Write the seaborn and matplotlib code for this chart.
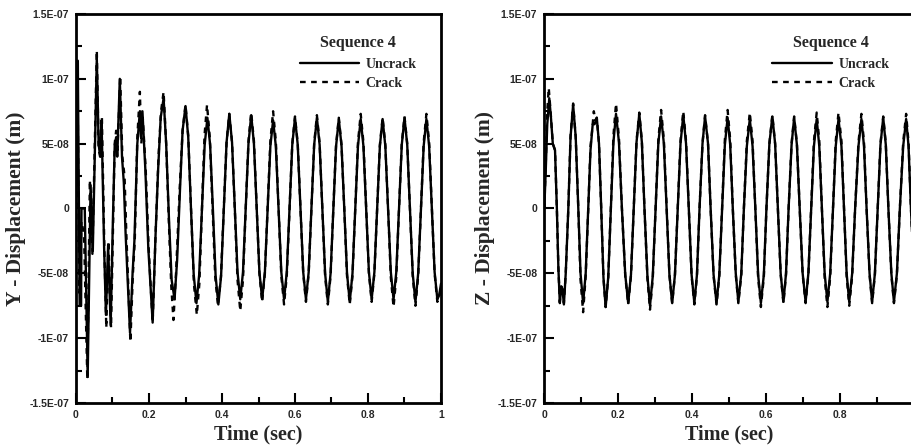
import matplotlib
matplotlib.use("Agg")
import matplotlib.pyplot as plt
from matplotlib.ticker import FixedLocator, FixedFormatter, MultipleLocator
from matplotlib.lines import Line2D
import seaborn as sns
import pandas as pd

# ---------------- data (displacement in units of 1e-8 m) ----------------
y_uncrack = [
    (0.000, 0.0), (0.005, 11.4), (0.010, -7.5), (0.014, -7.5), (0.015, 0.0), (0.024, 0.0),
    (0.032, -13.0), (0.040, 1.8), (0.046, -3.3), (0.057, 11.6), (0.062, 5.0), (0.066, 4.0),
    (0.070, 6.8), (0.077, -3.0), (0.082, -8.2), (0.088, -2.8), (0.095, -9.0), (0.101, -1.0),
    (0.106, 4.8), (0.110, 5.5), (0.113, 4.0), (0.120, 10.0), (0.126, 4.0), (0.131, 2.0),
    (0.136, -2.0), (0.148, -9.6), (0.155, -5.0), (0.160, -2.5), (0.168, 5.0), (0.175, 7.5),
    (0.178, 5.5), (0.182, 7.5), (0.190, 3.0), (0.198, -3.0), (0.210, -8.8), (0.218, -2.0),
    (0.225, 3.0), (0.232, 7.0), (0.240, 8.5), (0.247, 5.0), (0.255, -1.0), (0.262, -5.5),
    (0.270, -7.0), (0.277, -4.0), (0.285, 1.5), (0.292, 6.0), (0.300, 7.9),
    (0.3075, 5.5), (0.315, 0.0), (0.3225, -5.1), (0.330, -7.3),
    (0.3375, -5.1), (0.345, 0.0), (0.3525, 4.9), (0.360, 7.0),
    (0.3675, 4.9), (0.375, 0.0), (0.3825, -5.2), (0.390, -7.4),
    (0.3975, -5.2), (0.405, 0.0), (0.4125, 5.1), (0.420, 7.3),
    (0.4275, 5.1), (0.435, 0.0), (0.4425, -4.9), (0.450, -7.0),
    (0.4575, -4.9), (0.465, 0.0), (0.4725, 5.0), (0.480, 7.2),
    (0.4875, 5.0), (0.495, 0.0), (0.5025, -4.9), (0.510, -7.0),
    (0.5175, -4.9), (0.525, 0.0), (0.5325, 4.8), (0.540, 6.8),
    (0.5475, 4.8), (0.555, 0.0), (0.5625, -4.9), (0.570, -7.0),
    (0.5775, -4.9), (0.585, 0.0), (0.5925, 4.9), (0.600, 7.0),
    (0.6075, 4.9), (0.615, 0.0), (0.6225, -4.9), (0.630, -7.0),
    (0.6375, -4.9), (0.645, 0.0), (0.6525, 4.9), (0.660, 7.0),
    (0.6675, 4.9), (0.675, 0.0), (0.6825, -5.0), (0.690, -7.2),
    (0.6975, -5.0), (0.705, 0.0), (0.7125, 4.8), (0.720, 6.9),
    (0.7275, 4.8), (0.735, 0.0), (0.7425, -5.0), (0.750, -7.2),
    (0.7575, -5.0), (0.765, 0.0), (0.7725, 4.8), (0.780, 6.9),
    (0.7875, 4.8), (0.795, 0.0), (0.8025, -4.9), (0.810, -7.0),
    (0.8175, -4.9), (0.825, 0.0), (0.8325, 4.8), (0.840, 6.9),
    (0.8475, 4.8), (0.855, 0.0), (0.8625, -4.9), (0.870, -7.0),
    (0.8775, -4.9), (0.885, 0.0), (0.8925, 4.9), (0.900, 7.0),
    (0.9075, 4.9), (0.915, 0.0), (0.9225, -5.0), (0.930, -7.2),
    (0.9375, -5.0), (0.945, 0.0), (0.9525, 4.8), (0.960, 6.9),
    (0.9675, 4.8), (0.975, 0.0), (0.9825, -4.9), (0.990, -7.0),
    (0.995, -6.7), (1.000, -5.8),
]

y_crack = [
    (0.000, 0.0), (0.004, 10.5), (0.009, -6.5), (0.015, -1.0), (0.022, -2.0), (0.031, -13.2),
    (0.038, 2.2), (0.045, -3.5), (0.057, 12.2), (0.062, 4.5), (0.067, 4.0), (0.071, 7.0),
    (0.078, -3.5), (0.083, -9.2), (0.089, -2.5), (0.096, -9.2), (0.102, -0.5), (0.106, 5.0),
    (0.110, 6.0), (0.114, 4.5), (0.121, 10.2), (0.127, 4.0), (0.133, 2.5), (0.138, -2.0),
    (0.149, -10.3), (0.156, -5.0), (0.161, -2.5), (0.168, 5.5), (0.175, 9.0), (0.179, 5.0),
    (0.183, 7.0), (0.191, 3.0), (0.199, -3.0), (0.210, -8.8), (0.218, -2.0), (0.226, 4.0),
    (0.233, 7.5), (0.240, 9.0), (0.247, 5.0), (0.255, -1.5), (0.261, -6.0), (0.267, -8.6),
    (0.274, -5.0), (0.284, 1.5), (0.292, 6.0), (0.300, 8.0),
    (0.3075, 5.6), (0.315, 0.0), (0.323, -5.8), (0.331, -8.2),
    (0.338, -5.8), (0.345, 0.0), (0.352, 5.6), (0.359, 8.0),
    (0.3665, 5.5), (0.374, 0.0), (0.3815, -5.3), (0.389, -7.5),
    (0.397, -5.3), (0.405, 0.0), (0.4125, 5.1), (0.420, 7.3),
    (0.4275, 5.1), (0.435, 0.0), (0.4425, -5.5), (0.450, -7.9),
    (0.4575, -5.5), (0.465, 0.0), (0.4725, 5.2), (0.480, 7.4),
    (0.4875, 5.2), (0.495, 0.0), (0.5025, -5.0), (0.510, -7.2),
    (0.5175, -5.0), (0.525, 0.0), (0.5325, 5.2), (0.540, 7.5),
    (0.5475, 5.2), (0.555, 0.0), (0.5625, -5.2), (0.570, -7.4),
    (0.5775, -5.2), (0.585, 0.0), (0.5925, 5.0), (0.600, 7.1),
    (0.6075, 5.0), (0.615, 0.0), (0.6225, -5.0), (0.630, -7.2),
    (0.6375, -5.0), (0.645, 0.0), (0.6525, 5.0), (0.660, 7.2),
    (0.6675, 5.0), (0.675, 0.0), (0.6825, -5.2), (0.690, -7.4),
    (0.6975, -5.2), (0.705, 0.0), (0.7125, 4.9), (0.720, 7.0),
    (0.7275, 4.9), (0.735, 0.0), (0.7425, -5.2), (0.750, -7.4),
    (0.7575, -5.2), (0.765, 0.0), (0.7725, 5.1), (0.780, 7.3),
    (0.7875, 5.1), (0.795, 0.0), (0.8025, -5.0), (0.810, -7.2),
    (0.8175, -5.0), (0.825, 0.0), (0.8325, 4.9), (0.840, 7.0),
    (0.8475, 4.9), (0.855, 0.0), (0.8625, -5.3), (0.870, -7.6),
    (0.8775, -5.3), (0.885, 0.0), (0.8925, 5.0), (0.900, 7.1),
    (0.9075, 5.0), (0.915, 0.0), (0.9225, -5.2), (0.930, -7.5),
    (0.9375, -5.2), (0.945, 0.0), (0.9525, 5.1), (0.960, 7.3),
    (0.9675, 5.1), (0.975, 0.0), (0.9825, -5.0), (0.990, -7.2),
    (0.995, -6.9), (1.000, -6.0),
]

z_uncrack = [
    (0.000, 0.0), (0.004, 3.0), (0.008, 6.5), (0.0135, 8.5), (0.018, 7.0), (0.023, 5.0),
    (0.029, 4.5), (0.034, 0.0), (0.038, -4.5), (0.042, -7.3), (0.046, -6.0), (0.049, -6.2),
    (0.053, -7.4), (0.058, -5.0), (0.065, 0.0), (0.071, 5.5), (0.078, 8.0),
    (0.085, 5.5), (0.092, 0.0), (0.098, -5.0), (0.105, -7.3),
    (0.112, -5.0), (0.119, 0.0), (0.125, 4.5), (0.131, 6.5), (0.136, 6.5), (0.142, 7.0),
    (0.148, 5.0), (0.154, 0.0), (0.160, -5.3), (0.166, -7.6),
    (0.173, -5.3), (0.180, 0.0), (0.187, 5.1), (0.194, 7.3),
    (0.202, 5.1), (0.210, 0.0), (0.219, -5.1), (0.227, -7.3),
    (0.2345, -5.1), (0.242, 0.0), (0.2495, 5.1), (0.257, 7.3),
    (0.264, 5.1), (0.271, 0.0), (0.279, -5.2), (0.286, -7.5),
    (0.2935, -5.2), (0.301, 0.0), (0.3085, 5.0), (0.316, 7.1),
    (0.3235, 5.0), (0.331, 0.0), (0.3385, -5.1), (0.346, -7.3),
    (0.3535, -5.1), (0.361, 0.0), (0.3685, 5.0), (0.376, 7.2),
    (0.3835, 5.0), (0.391, 0.0), (0.3985, -5.1), (0.406, -7.3),
    (0.413, -5.1), (0.420, 0.0), (0.428, 5.0), (0.435, 7.1),
    (0.443, 5.0), (0.450, 0.0), (0.458, -5.1), (0.466, -7.3),
    (0.4735, -5.1), (0.481, 0.0), (0.4885, 4.9), (0.496, 7.0),
    (0.503, 4.9), (0.510, 0.0), (0.518, -5.0), (0.525, -7.2),
    (0.533, -5.0), (0.540, 0.0), (0.548, 4.8), (0.556, 6.9),
    (0.5635, 4.8), (0.571, 0.0), (0.5785, -5.1), (0.586, -7.3),
    (0.594, -5.1), (0.601, 0.0), (0.609, 5.0), (0.617, 7.1),
    (0.6245, 5.0), (0.632, 0.0), (0.6395, -5.0), (0.647, -7.2),
    (0.654, -5.0), (0.661, 0.0), (0.669, 4.9), (0.676, 7.0),
    (0.6835, 4.9), (0.691, 0.0), (0.699, -5.0), (0.707, -7.2),
    (0.7145, -5.0), (0.722, 0.0), (0.7295, 4.8), (0.737, 6.9),
    (0.744, 4.8), (0.751, 0.0), (0.7585, -5.0), (0.766, -7.2),
    (0.7735, -5.0), (0.781, 0.0), (0.7885, 4.8), (0.796, 6.9),
    (0.804, 4.8), (0.811, 0.0), (0.818, -5.0), (0.825, -7.2),
    (0.833, -5.0), (0.841, 0.0), (0.850, 4.8), (0.858, 6.9),
    (0.865, 4.8), (0.872, 0.0), (0.880, -5.0), (0.887, -7.2),
    (0.8945, -5.0), (0.902, 0.0), (0.9095, 4.9), (0.917, 7.0),
    (0.924, 4.9), (0.931, 0.0), (0.939, -5.0), (0.946, -7.2),
    (0.954, -5.0), (0.962, 0.0), (0.971, 4.8), (0.979, 6.9),
    (0.9855, 4.8), (0.992, 0.0), (1.000, -5.0),
]

z_crack = [
    (0.000, 0.0), (0.004, 3.5), (0.008, 7.5), (0.012, 9.3), (0.017, 7.5), (0.023, 5.0),
    (0.029, 4.5), (0.034, 0.0), (0.038, -4.5), (0.042, -7.2), (0.046, -6.0), (0.049, -6.0),
    (0.053, -7.3), (0.058, -5.0), (0.065, 0.0), (0.071, 5.6), (0.078, 8.1),
    (0.085, 5.5), (0.092, 0.0), (0.098, -5.5), (0.105, -8.0),
    (0.112, -5.2), (0.119, 0.0), (0.125, 4.8), (0.130, 6.2), (0.134, 7.5), (0.138, 6.8),
    (0.142, 7.0), (0.148, 5.0), (0.154, 0.0), (0.160, -5.3), (0.166, -7.6),
    (0.173, -5.3), (0.180, 0.0), (0.187, 5.6), (0.194, 8.1),
    (0.202, 5.4), (0.210, 0.0), (0.219, -5.2), (0.227, -7.4),
    (0.2345, -5.2), (0.242, 0.0), (0.2495, 5.2), (0.257, 7.4),
    (0.264, 5.2), (0.271, 0.0), (0.279, -5.4), (0.286, -7.8),
    (0.2935, -5.4), (0.301, 0.0), (0.3085, 5.3), (0.316, 7.6),
    (0.3235, 5.3), (0.331, 0.0), (0.3385, -5.1), (0.346, -7.3),
    (0.3535, -5.1), (0.361, 0.0), (0.3685, 5.2), (0.376, 7.5),
    (0.3835, 5.2), (0.391, 0.0), (0.3985, -5.2), (0.406, -7.4),
    (0.413, -5.2), (0.420, 0.0), (0.428, 5.0), (0.435, 7.2),
    (0.443, 5.0), (0.450, 0.0), (0.458, -5.2), (0.466, -7.4),
    (0.4735, -5.2), (0.481, 0.0), (0.4885, 5.3), (0.496, 7.6),
    (0.503, 5.3), (0.510, 0.0), (0.518, -5.1), (0.525, -7.3),
    (0.533, -5.1), (0.540, 0.0), (0.548, 5.2), (0.556, 7.4),
    (0.5635, 5.2), (0.571, 0.0), (0.5785, -5.3), (0.586, -7.6),
    (0.594, -5.3), (0.601, 0.0), (0.609, 5.0), (0.617, 7.2),
    (0.6245, 5.0), (0.632, 0.0), (0.6395, -5.1), (0.647, -7.3),
    (0.654, -5.1), (0.661, 0.0), (0.669, 5.0), (0.676, 7.1),
    (0.6835, 5.0), (0.691, 0.0), (0.699, -5.1), (0.707, -7.3),
    (0.7145, -5.1), (0.722, 0.0), (0.7295, 5.2), (0.737, 7.4),
    (0.744, 5.2), (0.751, 0.0), (0.7585, -5.3), (0.766, -7.6),
    (0.7735, -5.3), (0.781, 0.0), (0.7885, 5.2), (0.796, 7.4),
    (0.804, 5.2), (0.811, 0.0), (0.818, -5.2), (0.825, -7.5),
    (0.833, -5.2), (0.841, 0.0), (0.850, 5.1), (0.858, 7.3),
    (0.865, 5.1), (0.872, 0.0), (0.880, -5.1), (0.887, -7.3),
    (0.8945, -5.1), (0.902, 0.0), (0.9095, 5.0), (0.917, 7.1),
    (0.924, 5.0), (0.931, 0.0), (0.939, -5.1), (0.946, -7.3),
    (0.954, -5.1), (0.962, 0.0), (0.971, 5.1), (0.979, 7.3),
    (0.9855, 5.1), (0.992, 0.0), (1.000, -5.0),
]

series_names = ["Uncrack", "Crack"]
legend_title = "Sequence 4"
x_label = "Time (sec)"
y_labels = ["Y - Displacement (m)", "Z - Displacement (m)"]
x_ticks = [0, 0.2, 0.4, 0.6, 0.8, 1.0]
x_tick_labels_left = ["0", "0.2", "0.4", "0.6", "0.8", "1"]
x_tick_labels_right = ["0", "0.2", "0.4", "0.6", "0.8", ""]   # "1" falls off the image edge
y_ticks = [-1.5e-7, -1e-7, -5e-8, 0, 5e-8, 1e-7, 1.5e-7]
y_tick_labels = ["-1.5E-07", "-1E-07", "-5E-08", "0", "5E-08", "1E-07", "1.5E-07"]

UNIT = 1e-8
DASH = [2.4, 2.3]

def to_df(pairs):
    df = pd.DataFrame(pairs, columns=["t", "v"])
    df["v"] = df["v"] * UNIT
    return df

# ---------------- figure ----------------
sns.set_style("white")
plt.rcParams["font.family"] = ["Liberation Sans", "DejaVu Sans"]

fig = plt.figure(figsize=(9.12, 4.47), dpi=100)
ax1 = fig.add_axes([76 / 912, 1 - 403 / 447, 365 / 912, 389 / 447])
ax2 = fig.add_axes([544.3 / 912, 1 - 403 / 447, 369.6 / 912, 389 / 447])

serif = ["Liberation Serif", "DejaVu Serif"]

panels = [
    (ax1, y_uncrack, y_crack, y_labels[0], x_tick_labels_left),
    (ax2, z_uncrack, z_crack, y_labels[1], x_tick_labels_right),
]

for ax, unc, crk, ylab, xtl in panels:
    sns.lineplot(data=to_df(unc), x="t", y="v", ax=ax, color="black", lw=1.7,
                 estimator=None, sort=False, zorder=2)
    sns.lineplot(data=to_df(crk), x="t", y="v", ax=ax, color="black", lw=1.7,
                 estimator=None, sort=False, zorder=3)
    ax.lines[-1].set_dashes(DASH)

    ax.set_xlim(0, 1)
    ax.set_ylim(-1.5e-7, 1.5e-7)
    ax.xaxis.set_major_locator(FixedLocator(x_ticks))
    ax.xaxis.set_major_formatter(FixedFormatter(xtl))
    ax.xaxis.set_minor_locator(MultipleLocator(0.1))
    ax.yaxis.set_major_locator(FixedLocator(y_ticks))
    ax.yaxis.set_major_formatter(FixedFormatter(y_tick_labels))
    ax.yaxis.set_minor_locator(MultipleLocator(2.5e-8))
    ax.tick_params(which="both", direction="in", bottom=True, left=True, top=False, right=False,
                   width=1.5, color="black")
    ax.tick_params(which="major", length=7, pad=5, labelsize=7.5)
    ax.tick_params(which="minor", length=4)
    for lbl in ax.get_xticklabels() + ax.get_yticklabels():
        lbl.set_fontweight("bold")
    for sp in ax.spines.values():
        sp.set_visible(True)
        sp.set_linewidth(2.0)
        sp.set_color("black")

    ax.set_xlabel(x_label, family=serif, fontweight="bold", fontsize=14.5, labelpad=3)
    ax.set_ylabel(ylab, family=serif, fontweight="bold", fontsize=15.5, labelpad=2)

    handles = [Line2D([], [], color="black", lw=1.7),
               Line2D([], [], color="black", lw=1.7, dashes=DASH)]
    ax.legend(handles, series_names, title=legend_title, loc="upper right",
              bbox_to_anchor=(0.96, 0.97), frameon=False, handlelength=4.3,
              handletextpad=0.45, labelspacing=0.45, borderpad=0.2,
              prop={"family": serif, "weight": "bold", "size": 10},
              title_fontproperties={"family": serif, "weight": "bold", "size": 11.5})

fig.savefig("out.png", dpi=100)
